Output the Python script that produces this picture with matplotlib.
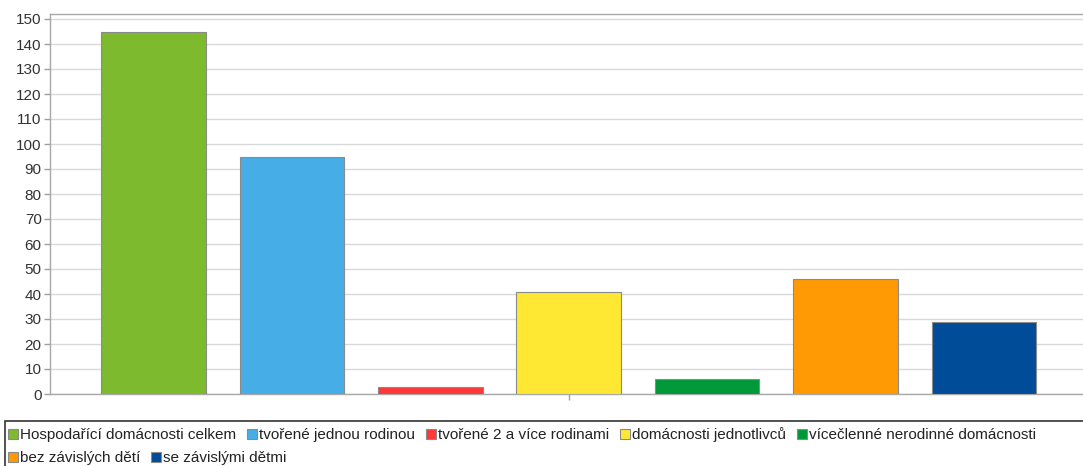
import matplotlib
matplotlib.use("Agg")
import matplotlib.pyplot as plt
from matplotlib.patches import Rectangle

labels = ["Hospodařící domácnosti celkem", "tvořené jednou rodinou", "tvořené 2 a více rodinami",
          "domácnosti jednotlivců", "vícečlenné nerodinné domácnosti", "bez závislých dětí",
          "se závislými dětmi"]
values = [145, 95, 3, 41, 6, 46, 29]
colors = ["#7EBA2E", "#47ADE6", "#FF3838", "#FFE834", "#00993A", "#FF9904", "#004C99"]
yticks = list(range(0, 151, 10))

plt.rcParams['font.family'] = ['Liberation Sans', 'DejaVu Sans']

W, H = 1083, 466
fig = plt.figure(figsize=(W / 100, H / 100), dpi=100)
ax = fig.add_axes([50 / W, (H - 394) / H, 1 - 50 / W, (394 - 14) / H])

xs = list(range(len(values)))
ax.bar(xs, values, width=0.755, color=colors, edgecolor="#8a8a8a", linewidth=0.8, zorder=3)
ax.set_xlim(-0.748, 6.716)
ax.set_ylim(0, 152)
ax.set_yticks(yticks)
ax.set_xticks([3.0])
ax.set_xticklabels([""])
ax.grid(axis="y", color="#d9d9d9", linewidth=1, zorder=0)
ax.tick_params(axis="y", length=4, width=1, color="#a0a0a0", labelsize=11, labelcolor="#333333", pad=2)
ax.tick_params(axis="x", length=4, width=1, color="#a0a0a0")
for s in ["left", "top", "bottom"]:
    ax.spines[s].set_color("#a8a8a8")
    ax.spines[s].set_linewidth(1)
ax.spines["right"].set_visible(False)

# legend box (flow layout)
fig.patches.append(Rectangle((5 / W, -0.01), 1.0, (H - 421) / H + 0.01, transform=fig.transFigure,
                             facecolor="white", edgecolor="#333333", linewidth=1.2))
fig.canvas.draw()
renderer = fig.canvas.get_renderer()
rows = [(434, labels[:5]), (457, labels[5:])]
k = 0
for ypix, row in rows:
    x = 8
    for lab in row:
        fig.patches.append(Rectangle((x / W, (H - ypix - 5) / H), 10 / W, 10 / H, transform=fig.transFigure,
                                     facecolor=colors[k], edgecolor="#8a8a8a", linewidth=0.8))
        t = fig.text((x + 12) / W, (H - ypix - 5) / H, lab, fontsize=11, color="#222222",
                     va="baseline", ha="left")
        bb = t.get_window_extent(renderer)
        x = x + 12 + bb.width + 11
        k += 1

fig.savefig("out.png", dpi=100)
